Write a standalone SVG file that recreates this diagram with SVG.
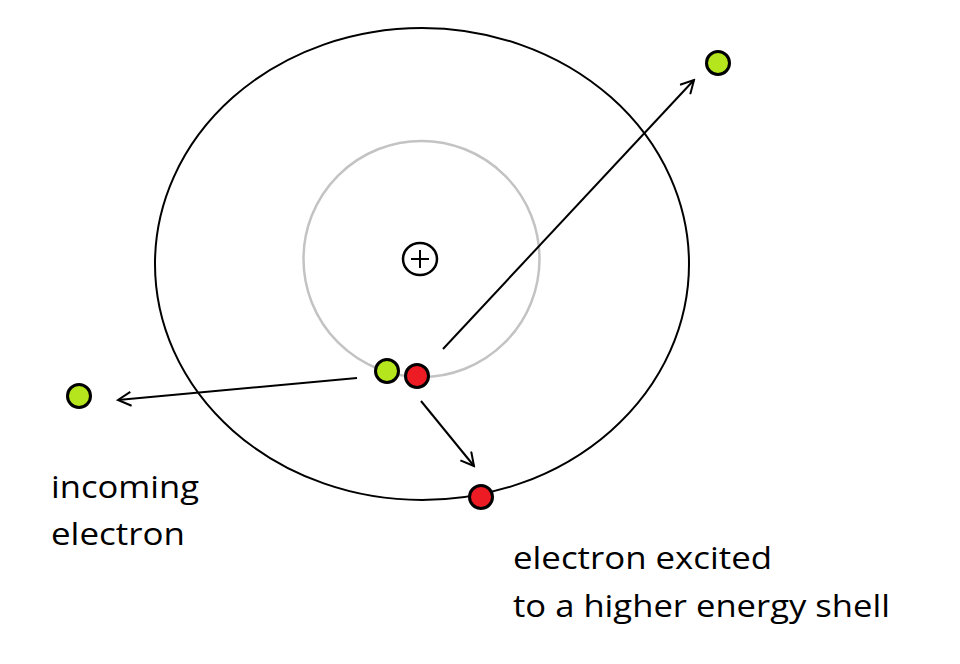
<svg xmlns="http://www.w3.org/2000/svg" width="960" height="664" viewBox="0 0 960 664">
<style>
.shell{fill:none;stroke:#000;stroke-width:2}
.inner{fill:none;stroke:#c3c3c3;stroke-width:2.5}
.e{stroke:#000;stroke-width:3}
.g{fill:#b5e61d}
.r{fill:#ed1c24}
.c{stroke:#000;stroke-width:2;fill:none}
text{font-family:"Open Sans","Noto Sans","Liberation Sans",sans-serif;font-size:31px;fill:#000}
</style>
<defs>
<marker id="ah" markerWidth="16" markerHeight="16" refX="14" refY="8" orient="auto" markerUnits="userSpaceOnUse">
<path d="M1,1 L14,8 L1,15" fill="none" stroke="#000" stroke-width="2"/>
</marker>
</defs>
<rect width="960" height="664" fill="#fff"/>
<g id="outer-shell"><ellipse class="shell" cx="422" cy="264" rx="267" ry="236"/></g>
<g id="inner-shell"><circle class="inner" cx="421.5" cy="259" r="118"/></g>
<g id="nucleus">
<ellipse cx="420" cy="259" rx="17" ry="16" fill="#fff" stroke="#000" stroke-width="2.5"/>
<path d="M420,250 V268 M411,259 H429" stroke="#000" stroke-width="2"/>
</g>
<g id="connectors">
<line class="c" x1="357" y1="378" x2="118" y2="400" marker-end="url(#ah)"/>
<line class="c" x1="443" y1="349" x2="694" y2="80" marker-end="url(#ah)"/>
<line class="c" x1="421" y1="401" x2="474" y2="466" marker-end="url(#ah)"/>
</g>
<g id="electron-green-inner"><circle class="e g" cx="387" cy="371" r="11.5"/></g>
<g id="electron-red-inner"><circle class="e r" cx="417" cy="376" r="11.5"/></g>
<g id="electron-green-left"><circle class="e g" cx="79" cy="396" r="11.5"/></g>
<g id="electron-green-out"><circle class="e g" cx="718" cy="63" r="11.5"/></g>
<g id="electron-red-outer"><circle class="e r" cx="481" cy="497" r="11.5"/></g>
<g id="label-incoming">
<text x="51" y="498" textLength="148" lengthAdjust="spacingAndGlyphs">incoming</text>
<text x="51" y="545" textLength="134" lengthAdjust="spacingAndGlyphs">electron</text>
</g>
<g id="label-excited">
<text x="513" y="569" textLength="259" lengthAdjust="spacingAndGlyphs">electron excited</text>
<text x="513" y="617" textLength="377" lengthAdjust="spacingAndGlyphs">to a higher energy shell</text>
</g>
</svg>
